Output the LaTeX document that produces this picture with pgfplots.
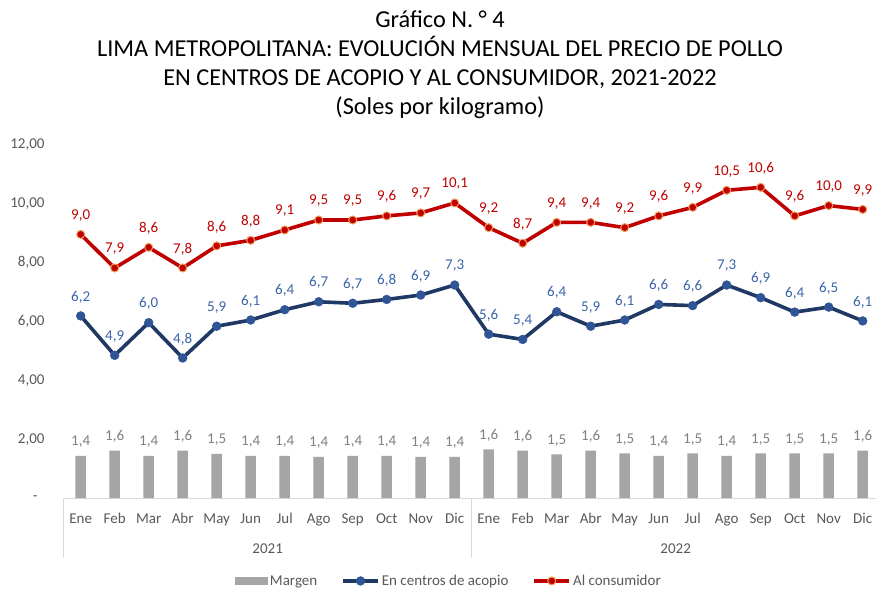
\documentclass[border=0pt]{standalone}
\usepackage{pgfplots}
\pgfplotsset{compat=1.18}
\usepackage{pgfplotstable}
\usepackage{fontspec}
\setmainfont{Carlito}
\definecolor{redline}{HTML}{C00000}
\definecolor{rededge}{HTML}{F19C5A}
\definecolor{blueline}{HTML}{203864}
\definecolor{bluemark}{HTML}{2F5597}
\definecolor{bluelab}{HTML}{3C64AA}
\definecolor{bargray}{HTML}{A5A5A5}
\definecolor{barlab}{HTML}{808080}
\definecolor{ticklab}{HTML}{595959}
\definecolor{axisline}{HTML}{D9D9D9}

\pgfplotstableread{
x  a     al   c     cl    m    ml
0  6.19  6.2  8.96  9.0   1.43 1.4
1  4.85  4.9  7.82  7.9   1.61 1.6
2  5.96  6.0  8.52  8.6   1.43 1.4
3  4.76  4.8  7.82  7.8   1.61 1.6
4  5.84  5.9  8.57  8.6   1.50 1.5
5  6.05  6.1  8.76  8.8   1.43 1.4
6  6.40  6.4  9.11  9.1   1.43 1.4
7  6.67  6.7  9.45  9.5   1.40 1.4
8  6.62  6.7  9.45  9.5   1.43 1.4
9  6.75  6.8  9.59  9.6   1.43 1.4
10 6.90  6.9  9.69  9.7   1.40 1.4
11 7.24  7.3  10.03 10.1  1.40 1.4
12 5.57  5.6  9.19  9.2   1.65 1.6
13 5.39  5.4  8.66  8.7   1.61 1.6
14 6.33  6.4  9.37  9.4   1.48 1.5
15 5.84  5.9  9.37  9.4   1.61 1.6
16 6.05  6.1  9.19  9.2   1.52 1.5
17 6.58  6.6  9.59  9.6   1.43 1.4
18 6.54  6.6  9.88  9.9   1.52 1.5
19 7.24  7.3  10.46 10.5  1.43 1.4
20 6.81  6.9  10.56 10.6  1.52 1.5
21 6.32  6.4  9.59  9.6   1.52 1.5
22 6.49  6.5  9.94  10.0  1.52 1.5
23 6.02  6.1  9.81  9.9   1.61 1.6
}\datatable

\begin{document}
\begin{tikzpicture}
\path[use as bounding box, fill=white] (0,0) rectangle (876pt,590pt);
\node[anchor=base, font=\fontsize{24.3}{29}\selectfont] at (440pt,562pt) {Gráfico N. ° 4};
\node[anchor=base, font=\fontsize{24.3}{29}\selectfont] at (440pt,533pt) {LIMA METROPOLITANA: EVOLUCIÓN MENSUAL DEL PRECIO DE POLLO};
\node[anchor=base, font=\fontsize{24.3}{29}\selectfont] at (440pt,504pt) {EN CENTROS DE ACOPIO Y AL CONSUMIDOR, 2021-2022};
\node[anchor=base, font=\fontsize{24.3}{29}\selectfont] at (440pt,475pt) {(Soles por kilogramo)};
\begin{axis}[
  at={(63.7pt,92pt)}, anchor=south west,
  scale only axis, width=812.6pt, height=353pt,
  xmin=-0.5, xmax=23.4, ymin=0, ymax=12,
  clip=false,
  axis lines*=left,
  x axis line style={draw=axisline, line width=0.8pt, -},
  y axis line style={draw=none},
  /pgf/number format/assume math mode=true,
  ytick={0,2,4,6,8,10,12},
  yticklabels={{-\hspace*{7pt}},{2,00},{4,00},{6,00},{8,00},{10,00},{12,00}},
  xtick={0,...,23},
  xticklabels={Ene,Feb,Mar,Abr,May,Jun,Jul,Ago,Sep,Oct,Nov,Dic,Ene,Feb,Mar,Abr,May,Jun,Jul,Ago,Sep,Oct,Nov,Dic},
  major tick length=0pt,
  xticklabel style={font=\fontsize{15}{18}\selectfont, text=ticklab, anchor=base, inner sep=0pt, yshift=-25pt},
  yticklabel style={font=\fontsize{15}{18}\selectfont, text=ticklab, anchor=east, inner sep=0pt, xshift=-19pt},
  legend style={at={(axis description cs:0.474,-0.235)}, anchor=center, draw=none, fill=none,
    font=\fontsize{15}{18}\selectfont, text=ticklab, legend columns=3,
    /tikz/every even column/.append style={column sep=22pt}},
  legend cell align=left,
  legend image code/.code={\draw[mark repeat=2,mark phase=2,#1] plot coordinates {(0pt,0pt)(17.5pt,0pt)(35pt,0pt)};},
  nodes near coords style={font=\fontsize{15}{18}\selectfont, anchor=center},
]
\addplot[ybar, bar width=10.5pt, fill=bargray, draw=none,
  point meta=explicit,
  nodes near coords={\pgfmathprintnumber[fixed,zerofill,precision=1,use comma,assume math mode=true]{\pgfplotspointmeta}},
  nodes near coords style={text=barlab, yshift=14pt},
  legend image code/.code={\fill[bargray] (0pt,-4pt) rectangle (33pt,4pt);}]
  table[x=x, y=m, meta=ml] {\datatable};
\addlegendentry{Margen}
\addplot[blueline, line width=3.6pt, mark=*, mark size=4.4pt,
  mark options={fill=bluemark, draw=bluemark, line width=0.5pt},
  point meta=explicit,
  nodes near coords={\pgfmathprintnumber[fixed,zerofill,precision=1,use comma,assume math mode=true]{\pgfplotspointmeta}},
  nodes near coords style={text=bluelab, yshift=19pt}]
  table[x=x, y=a, meta=al] {\datatable};
\addlegendentry{En centros de acopio}
\addplot[redline, line width=3.6pt, mark=*, mark size=4pt,
  mark options={fill=redline, draw=rededge, line width=1pt},
  point meta=explicit,
  nodes near coords={\pgfmathprintnumber[fixed,zerofill,precision=1,use comma,assume math mode=true]{\pgfplotspointmeta}},
  nodes near coords style={text=redline, yshift=19pt}]
  table[x=x, y=c, meta=cl] {\datatable};
\addlegendentry{Al consumidor}
\draw[axisline, line width=0.8pt] (axis cs:-0.5,0) -- ++(0pt,-60pt);
\draw[axisline, line width=0.8pt] (axis cs:11.5,0) -- ++(0pt,-60pt);
\node[font=\fontsize{15}{18}\selectfont, text=ticklab, anchor=base] at ([yshift=-55pt]axis cs:5.5,0) {2021};
\node[font=\fontsize{15}{18}\selectfont, text=ticklab, anchor=base] at ([yshift=-55pt]axis cs:17.5,0) {2022};
\end{axis}
\end{tikzpicture}
\end{document}
